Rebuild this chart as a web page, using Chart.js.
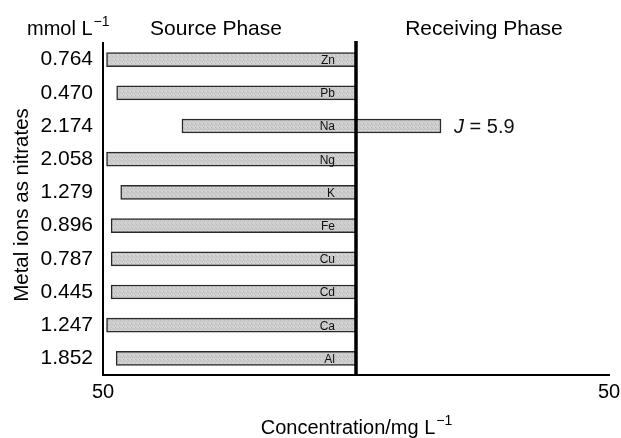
<!DOCTYPE html>
<html>
<head>
<meta charset="utf-8">
<script src="https://cdn.jsdelivr.net/npm/chart.js@4.4.0/dist/chart.umd.min.js"></script>
<style>
  html, body { margin: 0; padding: 0; background: #fff; }
  #wrap { width: 621px; height: 438px; }
</style>
</head>
<body>
<div id="wrap"><canvas id="myChart" width="621" height="438"></canvas></div>
<script>
// 금속 이온 (질산염) 데이터
const metals = ['Zn', 'Pb', 'Na', 'Ng', 'K', 'Fe', 'Cu', 'Cd', 'Ca', 'Al'];
const mmolLabels = ['0.764', '0.470', '2.174', '2.058', '1.279', '0.896', '0.787', '0.445', '1.247', '1.852'];
// 왼쪽(source) 끝 값, 오른쪽(receiving) 끝 값 (mg/L, 가운데 0 기준)
const sourceEnd = [-49.3, -47.3, -34.4, -49.3, -46.5, -48.4, -48.4, -48.4, -49.3, -47.4];
const receivingEnd = [0, 0, 16.8, 0, 0, 0, 0, 0, 0, 0];
const xTicks = [-50, 50];
const fluxLabel = { metal: 'Na', text: ' = 5.9' };

const FONT = '"Liberation Sans", Arimo, Helvetica, Arial, sans-serif';

function makePattern() {
	const c = document.createElement('canvas');
	c.width = 4; c.height = 4;
	const p = c.getContext('2d');
	p.fillStyle = '#cdcdcd';
	p.fillRect(0, 0, 4, 4);
	p.fillStyle = '#bdbdbd';
	p.fillRect(0, 0, 1, 1);
	p.fillRect(2, 1, 1, 1);
	p.fillRect(3, 3, 1, 1);
	p.fillStyle = '#d9d9d9';
	p.fillRect(2, 3, 1, 1);
	p.fillRect(1, 2, 1, 1);
	return p.createPattern(c, 'repeat');
}

// 위첨자 포함 텍스트 그리기
function drawSupText(ctx, base, sup, x, y, size, align) {
	const supSize = Math.round(size * 0.7);
	ctx.font = size + 'px ' + FONT;
	const wb = ctx.measureText(base).width;
	ctx.font = supSize + 'px ' + FONT;
	const ws = ctx.measureText(sup).width;
	let start = x;
	if (align === 'center') start = x - (wb + ws) / 2;
	ctx.textAlign = 'left';
	ctx.textBaseline = 'alphabetic';
	ctx.font = size + 'px ' + FONT;
	ctx.fillText(base, start, y);
	ctx.font = supSize + 'px ' + FONT;
	ctx.fillText(sup, start + wb + 1, y - size * 0.45);
}

const decorPlugin = {
	id: 'decor',
	afterDatasetsDraw(chart) {
		const ctx = chart.ctx;
		const xs = chart.scales.x;
		const ys = chart.scales.y;
		const area = chart.chartArea;
		const x0 = xs.getPixelForValue(0);
		ctx.save();

		// 막대 안의 금속 이름
		ctx.fillStyle = '#111';
		ctx.font = '12px ' + FONT;
		ctx.textAlign = 'right';
		ctx.textBaseline = 'middle';
		metals.forEach((m, i) => {
			ctx.fillText(m, x0 - 21, ys.getPixelForValue(i) + 1);
		});

		// 가운데 선
		ctx.strokeStyle = '#000';
		ctx.lineWidth = 3.5;
		ctx.beginPath();
		ctx.moveTo(x0, area.top - 2);
		ctx.lineTo(x0, area.bottom);
		ctx.stroke();

		// J = 5.9
		const fi = metals.indexOf(fluxLabel.metal);
		const fy = ys.getPixelForValue(fi) + 1;
		const fx = xs.getPixelForValue(receivingEnd[fi]) + 13;
		ctx.textAlign = 'left';
		ctx.textBaseline = 'middle';
		ctx.font = 'italic 20px ' + FONT;
		ctx.fillText('J', fx, fy);
		const wj = ctx.measureText('J').width;
		ctx.font = '20px ' + FONT;
		ctx.fillText(fluxLabel.text, fx + wj, fy);

		// 상단 텍스트
		ctx.fillStyle = '#000';
		drawSupText(ctx, 'mmol L', '\u22121', 27, 35, 20, 'left');
		ctx.font = '21px ' + FONT;
		ctx.textAlign = 'center';
		ctx.textBaseline = 'alphabetic';
		ctx.fillText('Source Phase', 216, 35);
		ctx.fillText('Receiving Phase', 484, 35);

		// x축 제목
		drawSupText(ctx, 'Concentration/mg L', '\u22121', x0, 434, 20, 'center');

		// y축 제목
		ctx.translate(22, 205);
		ctx.rotate(-Math.PI / 2);
		ctx.font = '20.5px ' + FONT;
		ctx.textAlign = 'center';
		ctx.textBaseline = 'middle';
		ctx.fillText('Metal ions as nitrates', 0, 0);
		ctx.restore();
	}
};

window.onload = () => {
	const ctx = document.getElementById('myChart');
	new Chart(ctx, {
		type: 'bar',
		data: {
			labels: mmolLabels,
			datasets: [{
				data: sourceEnd.map((v, i) => [v, receivingEnd[i]]),
				backgroundColor: makePattern(),
				borderColor: '#2a2a2a',
				borderWidth: 1.5,
				borderSkipped: false,
				barThickness: 14
			}]
		},
		options: {
			indexAxis: 'y',
			responsive: false,
			animation: false,
			layout: { padding: { top: 43, right: 12, left: 0, bottom: 0 } },
			plugins: {
				legend: { display: false },
				tooltip: { enabled: false }
			},
			scales: {
				x: {
					min: -50,
					max: 50,
					afterBuildTicks: (scale) => { scale.ticks = xTicks.map(v => ({ value: v })); },
					afterFit: (scale) => {
						scale.height = 63;
						scale.paddingLeft = 0;
						scale.paddingRight = 0;
					},
					grid: { display: false, drawTicks: false },
					border: { display: true, color: '#000', width: 2 },
					ticks: {
						color: '#000',
						padding: 5,
						font: { family: FONT, size: 20 },
						callback: (v) => String(Math.abs(v)),
						maxRotation: 0,
						autoSkip: false
					}
				},
				y: {
					afterFit: (scale) => { scale.width = 103; },
					grid: { display: false, drawTicks: false },
					border: { display: true, color: '#000', width: 2 },
					ticks: {
						color: '#000',
						padding: 10,
						font: { family: FONT, size: 21 }
					}
				}
			}
		},
		plugins: [decorPlugin]
	});
};
</script>
</body>
</html>
